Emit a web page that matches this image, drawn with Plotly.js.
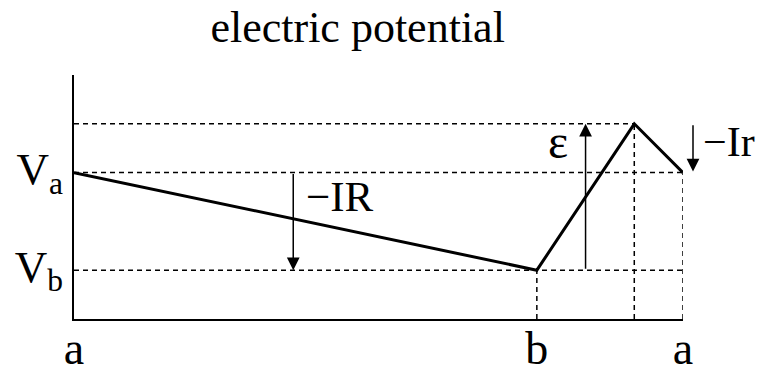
<!DOCTYPE html>
<html>
<head>
<meta charset="utf-8">
<script src="https://cdn.plot.ly/plotly-3.0.1.min.js"></script>
<style>html,body{margin:0;padding:0;background:#fff;}#chart{width:761px;height:367px;}</style>
</head>
<body>
<div id="chart"></div>
<script>
// Potential profile along the circuit: a -> b -> (emf peak) -> a
var pathX = [0, 7.6, 9.2, 10];
var pathY = [3, 1, 4, 3];

// x tick positions and labels
var xTickVals = [0, 7.6, 10];
var xTickText = ['a', 'b', 'a'];
var yTickVals = [1, 3];
var yTickText = ['V<sub>b</sub>', 'V<sub>a</sub>'];

// Dashed guide lines (x pairs, y pairs)
var guideX = [[0, 9.2], [0, 10], [0, 10], [7.6, 7.6], [9.2, 9.2], [10, 10]];
var guideY = [[4, 4], [3, 3], [1, 1], [0, 1], [0, 4], [0, 3]];

// Arrows: x, tail y -> tip y  (last one sits just right of the end point)
var arrowX = [3.6, 8.4, 10];
var arrowTailY = [3, 1, 4];
var arrowTipY = [1, 4, 3.02];
var arrowShift = [0, 0, 10];

// Labels
var labelText = ['\u2212IR', '\u03b5', '\u2212Ir'];
var labelX = [3.78, 7.95, 10];
var labelY = [2.52, 3.64, 3.62];
var labelShift = [0, 0, 18];
var labelAnchor = ['left', 'center', 'left'];
var labelSize = [43, 48, 42];

var FONT = 'Liberation Serif, Times New Roman, serif';

var traces = [];
for (var i = 0; i < guideX.length; i++) {
  traces.push({
    x: guideX[i], y: guideY[i], mode: 'lines', type: 'scatter',
    line: {color: '#000', width: 1.5, dash: '5px,4px'},
    hoverinfo: 'skip', showlegend: false
  });
}
traces.push({
  x: pathX, y: pathY, mode: 'lines', type: 'scatter',
  line: {color: '#000', width: 3},
  showlegend: false
});

var annotations = [];
for (var j = 0; j < arrowX.length; j++) {
  annotations.push({
    x: arrowX[j], y: arrowTipY[j], xref: 'x', yref: 'y',
    ax: arrowX[j], ay: arrowTailY[j], axref: 'x', ayref: 'y',
    xshift: arrowShift[j],
    text: '', showarrow: true, arrowhead: 2, arrowsize: 1.7,
    arrowwidth: 1.5, arrowcolor: '#000', standoff: 0, startstandoff: 0
  });
}
for (var k = 0; k < labelText.length; k++) {
  annotations.push({
    x: labelX[k], y: labelY[k], xref: 'x', yref: 'y',
    xshift: labelShift[k],
    text: labelText[k], showarrow: false,
    xanchor: labelAnchor[k], yanchor: 'middle',
    font: {family: FONT, size: labelSize[k], color: '#000'}
  });
}

var layout = {
  width: 761, height: 367,
  margin: {l: 74, r: 78, t: 75, b: 48},
  paper_bgcolor: '#fff', plot_bgcolor: '#fff',
  title: {
    text: 'electric potential',
    font: {family: FONT, size: 44, color: '#000'},
    x: 0.47, xref: 'container', xanchor: 'center',
    y: 0.928, yref: 'container', yanchor: 'middle'
  },
  xaxis: {
    range: [0, 10], showgrid: false, zeroline: false,
    showline: true, linecolor: '#000', linewidth: 2,
    tickvals: xTickVals, ticktext: xTickText, ticks: '',
    ticklabelstandoff: -12,
    tickfont: {family: FONT, size: 46, color: '#000'}
  },
  yaxis: {
    range: [0, 5], showgrid: false, zeroline: false,
    showline: true, linecolor: '#000', linewidth: 2,
    tickvals: yTickVals, ticktext: yTickText, ticks: '',
    ticklabelshift: -4,
    tickfont: {family: FONT, size: 45, color: '#000'}
  },
  annotations: annotations,
  showlegend: false
};

Plotly.newPlot('chart', traces, layout, {displayModeBar: false, staticPlot: true});
</script>
</body>
</html>
